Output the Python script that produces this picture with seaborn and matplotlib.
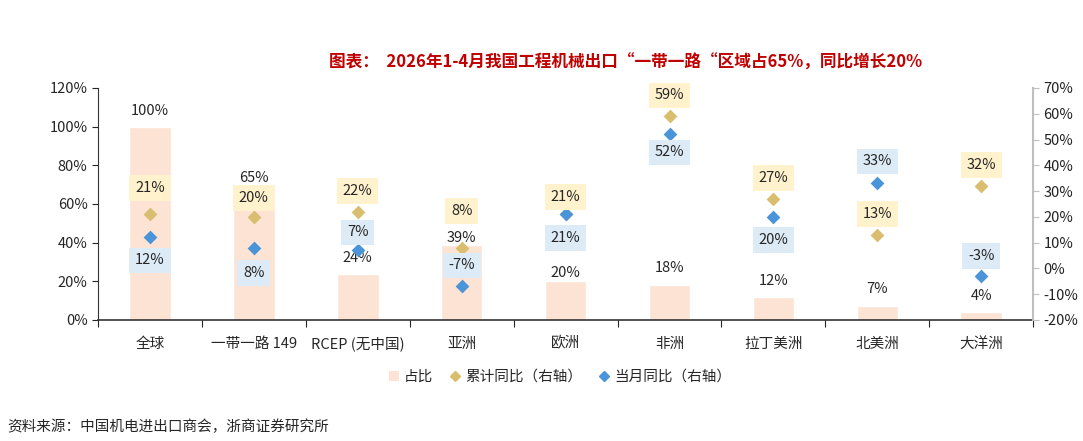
import matplotlib
matplotlib.use("Agg")
import matplotlib.pyplot as plt
import seaborn as sns
import numpy as np
import pandas as pd
from matplotlib.lines import Line2D
from matplotlib.patches import Patch
from matplotlib.ticker import PercentFormatter, FixedLocator

regions = ["全球", "一带一路 149", "RCEP (无中国)", "亚洲", "欧洲", "非洲", "拉丁美洲", "北美洲", "大洋洲"]
share = [100, 65, 24, 39, 20, 18, 12, 7, 4]
cum_yoy = [21, 20, 22, 8, 21, 59, 27, 13, 32]
mon_yoy = [12, 8, 7, -7, 21, 52, 20, 33, -3]

# label offsets from the mark, in pixels (+ above, - below)
share_off = [16, 16, 16, 7, 8, 17, 16, 17, 16]
cum_off = [26, 19, 21, 37, 17, 21, 21, 21, 21]
mon_off = [-23, -25, 18, 21, -24, -18, -23, 22, 20]

sns.set_style("white")
plt.rcParams['font.family'] = ['Noto Sans CJK SC', 'DejaVu Sans']
plt.rcParams['axes.unicode_minus'] = False

bar_c = "#FDE3D3"
cum_c = "#D8BE6E"
mon_c = "#4A94DA"
px = 0.72  # pixel -> point at dpi 100

df = pd.DataFrame({"region": regions, "share": share, "cum": cum_yoy, "mon": mon_yoy})

fig = plt.figure(figsize=(10.83, 4.41), dpi=100)
ax = fig.add_axes([0.0905, 0.2744, 0.8635, 0.5261])
sns.barplot(data=df, x="region", y="share", color=bar_c, width=0.4, saturation=1, ax=ax)
ax.set_ylim(0, 120)
ax.set_yticks(np.arange(0, 121, 20))
ax.yaxis.set_major_formatter(PercentFormatter(decimals=0))

ax2 = ax.twinx()
sns.stripplot(data=df, x="region", y="cum", color=cum_c, marker="D", size=7, jitter=False, ax=ax2, zorder=3)
sns.stripplot(data=df, x="region", y="mon", color=mon_c, marker="D", size=7, jitter=False, ax=ax2, zorder=3)
ax2.set_ylim(-20, 70)
ax2.set_yticks(np.arange(-20, 71, 10))
ax2.yaxis.set_major_formatter(PercentFormatter(decimals=0))
ax.set_xlim(-0.5, len(regions) - 0.5)
ax2.set_xlim(-0.5, len(regions) - 0.5)

for a in (ax, ax2):
    a.set_xlabel("")
    a.set_ylabel("")
    a.tick_params(axis="y", labelsize=10.5, length=4, width=0.8)

ax.set_xticks(range(len(regions)))
ax.set_xticklabels(regions, fontsize=10.5)
ax.xaxis.set_minor_locator(FixedLocator(np.arange(-0.5, len(regions), 1)))
ax.tick_params(axis="x", which="major", length=0, pad=12)
ax.tick_params(axis="x", which="minor", length=5, width=0.8, direction="out", bottom=True)
ax.tick_params(axis="y", left=True, direction="out")
ax2.tick_params(axis="y", right=True, direction="out", labelcolor="#222222", color="#BFBFBF")

ax.spines["top"].set_visible(False)
ax2.spines["top"].set_visible(False)
ax.spines["right"].set_visible(False)
ax2.spines["left"].set_visible(False)
ax2.spines["bottom"].set_visible(False)
ax2.spines["right"].set_color("#BFBFBF")
ax2.spines["right"].set_linewidth(1.5)
ax.spines["left"].set_color("#333333")
ax.spines["bottom"].set_color("#333333")
ax.spines["bottom"].set_linewidth(1.2)

for i, v in enumerate(share):
    ax.annotate(f"{v}%", (i, v), xytext=(0, share_off[i] * px), textcoords="offset points",
                ha="center", va="center", fontsize=10.5)

for i, v in enumerate(cum_yoy):
    ax2.annotate(f"{v}%", (i, v), xytext=(0, cum_off[i] * px), textcoords="offset points",
                 ha="center", va="center", fontsize=10.5, zorder=4,
                 bbox=dict(boxstyle="square,pad=0.4", fc="#FFF2CC", ec="none"))

for i, v in enumerate(mon_yoy):
    ax2.annotate(f"{v}%", (i, v), xytext=(0, mon_off[i] * px), textcoords="offset points",
                 ha="center", va="center", fontsize=10.5, zorder=4,
                 bbox=dict(boxstyle="square,pad=0.4", fc="#DDEBF7", ec="none"))

fig.text(0.578, 0.857, "图表：  2026年1-4月我国工程机械出口“一带一路“区域占65%，同比增长20%",
         ha="center", va="center", fontsize=12, fontweight="bold", color="#C00000")

handles = [
    Patch(facecolor=bar_c, edgecolor="none"),
    Line2D([], [], marker="D", color=cum_c, linestyle="none", markersize=5),
    Line2D([], [], marker="D", color=mon_c, linestyle="none", markersize=5),
]
fig.legend(handles, ["占比", "累计同比（右轴）", "当月同比（右轴）"], loc="center",
           bbox_to_anchor=(0.517, 0.145), ncol=3, frameon=False, fontsize=10.5,
           handlelength=0.7, handletextpad=0.3, columnspacing=1.2)

fig.text(0.007, 0.032, "资料来源：中国机电进出口商会，浙商证券研究所", ha="left", va="center", fontsize=10.5)

fig.savefig("out.png", dpi=100)
